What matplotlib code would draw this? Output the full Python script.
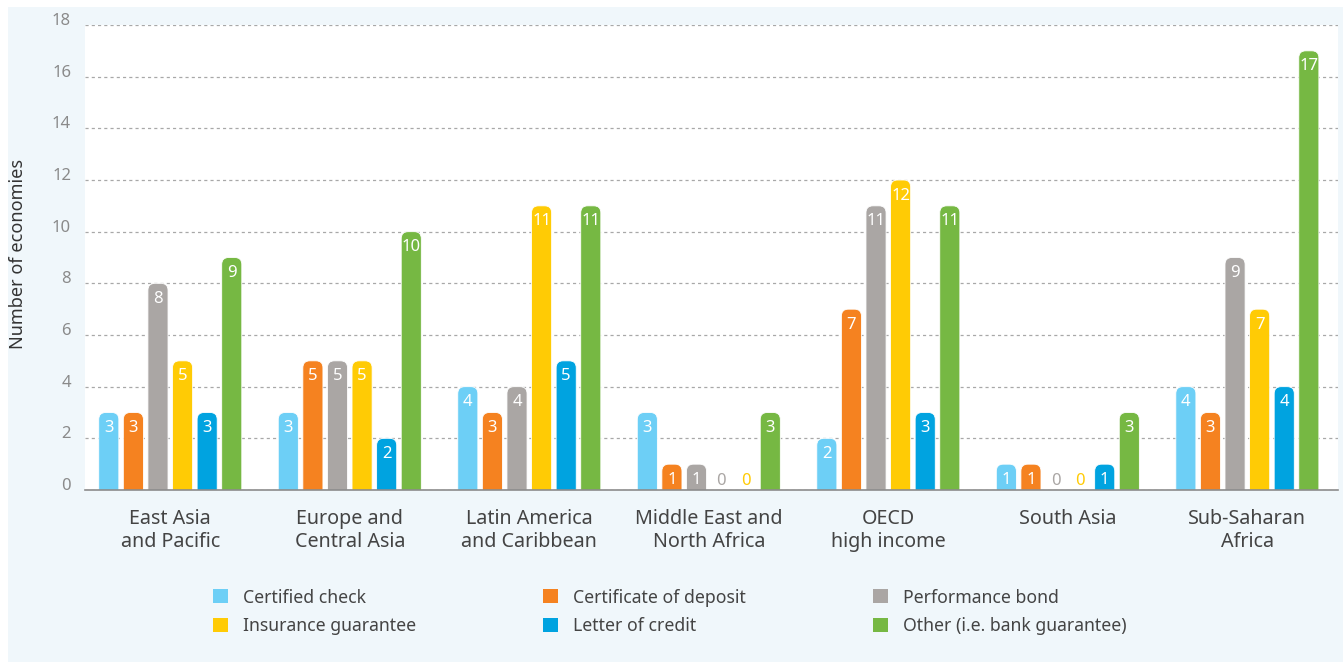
import matplotlib
matplotlib.use('Agg')
import matplotlib.pyplot as plt
from matplotlib.patches import FancyBboxPatch, Patch, Rectangle

plt.rcParams['font.family'] = ['Noto Sans', 'DejaVu Sans']

regions = ['East Asia\nand Pacific', 'Europe and\nCentral Asia', 'Latin America\nand Caribbean',
           'Middle East and\nNorth Africa', 'OECD\nhigh income', 'South Asia', 'Sub-Saharan\nAfrica']
series = ['Certified check', 'Certificate of deposit', 'Performance bond',
          'Insurance guarantee', 'Letter of credit', 'Other (i.e. bank guarantee)']
certified_check = [3, 3, 4, 3, 2, 1, 4]
certificate_deposit = [3, 5, 3, 1, 7, 1, 3]
performance_bond = [8, 5, 4, 1, 11, 0, 9]
insurance_guarantee = [5, 5, 11, 0, 12, 0, 7]
letter_of_credit = [3, 2, 5, 0, 3, 1, 4]
other = [9, 10, 11, 3, 11, 3, 17]
values = [certified_check, certificate_deposit, performance_bond,
          insurance_guarantee, letter_of_credit, other]
colors = ['#6dcff6', '#f58220', '#aaa6a4', '#ffcb05', '#00a3e0', '#76b843']
# the zero labels in the original use these colours
zero_label_color = {(3, 3): '#aaa6a4', (4, 3): '#ffcb05'}

W, H = 1343, 662
fig = plt.figure(figsize=(W / 100, H / 100), dpi=100, facecolor='white')
fig.patches.append(Rectangle((8 / W, 0), 1, 1 - 7 / H, transform=fig.transFigure,
                             facecolor='#f0f7fb', edgecolor='none', zorder=-10))

ax = fig.add_axes([85 / W, 1 - 490 / H, 1253 / W, 465 / H])
ax.set_facecolor('white')
xmin, xmax = -0.475, 6.505
ax.set_xlim(xmin, xmax)
ax.set_ylim(0, 18)

# pixel scale so the rounded tops stay circular
px_x = 1253 / (xmax - xmin)
px_y = 465 / 18
aspect = px_x / px_y

step = 0.137
width = 0.112
r = 7 / px_x
for i, (vals, col) in enumerate(zip(values, colors)):
    for g, v in enumerate(vals):
        x = g + (i - 2.5) * step
        if v > 0:
            bar = FancyBboxPatch((x - width / 2, -1), width, v + 1,
                                 boxstyle=f'round,pad=0,rounding_size={r}',
                                 mutation_aspect=aspect, facecolor=col,
                                 edgecolor='white', linewidth=0.6, zorder=3)
            ax.add_patch(bar)
            ax.text(x, v - 0.6, str(v), ha='center', va='center', color='white',
                    fontsize=12, zorder=4)
        else:
            ax.text(x, 0.35, str(v), ha='center', va='center',
                    color=zero_label_color.get((i, g), col), fontsize=12, zorder=4)

ax.set_yticks(range(0, 19, 2))
ax.yaxis.grid(True, color='#a8a8a8', linestyle=(0, (2.5, 2.5)), linewidth=0.9)
ax.set_axisbelow(True)
ax.tick_params(axis='y', length=0, pad=10, labelsize=12, labelcolor='#8a8a8a')
for t in ax.get_yticklabels():
    t.set_va('baseline')
ax.set_xticks(range(len(regions)))
ax.set_xticklabels(regions, fontsize=14.2, color='#444444', linespacing=1.17)
ax.tick_params(axis='x', length=0, pad=14)
for s in ['top', 'right', 'left']:
    ax.spines[s].set_visible(False)
ax.spines['bottom'].set_color('#8c8c8c')
ax.spines['bottom'].set_linewidth(1.2)
ax.spines['bottom'].set_zorder(5)

fig.text(18 / W, 1 - 254 / H, 'Number of economies', rotation=90, ha='center',
         va='center', fontsize=13, color='#333333')

handles = [Patch(facecolor=c, edgecolor='none', label=s) for s, c in zip(series, colors)]
order = [0, 3, 1, 4, 2, 5]
fig.legend([handles[k] for k in order], [series[k] for k in order], ncol=3,
           loc='center', bbox_to_anchor=(670 / W, 1 - 612 / H), frameon=False,
           fontsize=12.7, labelcolor='#444444', handlelength=0.85, handleheight=0.85,
           handletextpad=0.85, columnspacing=7.2, labelspacing=0.62)

fig.savefig('out.png', dpi=100, facecolor=fig.get_facecolor())
